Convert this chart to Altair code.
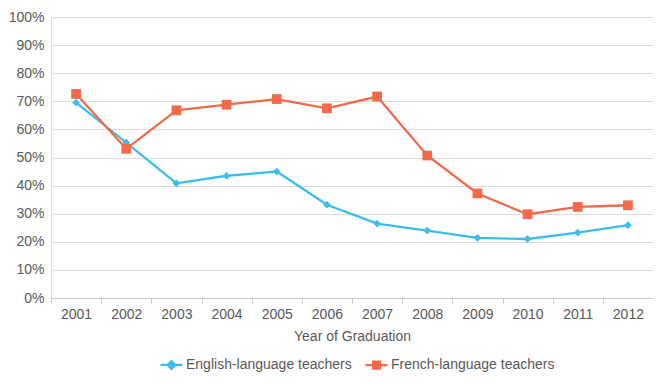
import altair as alt
import pandas as pd

years = ["2001", "2002", "2003", "2004", "2005", "2006", "2007", "2008", "2009", "2010", "2011", "2012"]
english = [0.695, 0.553, 0.408, 0.435, 0.450, 0.332, 0.265, 0.240, 0.214, 0.210, 0.233, 0.259]
french = [0.726, 0.531, 0.668, 0.688, 0.708, 0.675, 0.717, 0.507, 0.372, 0.298, 0.324, 0.330]
series = ["English-language teachers", "French-language teachers"]
colors = ["#3DBDEA", "#F26A4A"]
y_ticks = [0, 0.1, 0.2, 0.3, 0.4, 0.5, 0.6, 0.7, 0.8, 0.9, 1.0]

rows = []
for yr, e, f in zip(years, english, french):
    rows.append({"Year": yr, "Share": e, "Series": series[0]})
    rows.append({"Year": yr, "Share": f, "Series": series[1]})
df = pd.DataFrame(rows)

FONT = "Liberation Sans"
GRAY = "#595959"

x_enc = alt.X(
    "Year:O",
    sort=years,
    scale=alt.Scale(type="band", paddingInner=0, paddingOuter=0),
    axis=alt.Axis(
        title="Year of Graduation",
        labelAngle=0,
        tickBand="extent",
        grid=False,
        domainColor="#c8c8c8",
        tickColor="#c8c8c8",
        tickSize=5,
        labelPadding=4,
        titlePadding=8,
    ),
)
y_enc = alt.Y(
    "Share:Q",
    scale=alt.Scale(domain=[0, 1], nice=False, zero=True),
    axis=alt.Axis(
        title=None,
        format=".0%",
        values=y_ticks,
        grid=True,
        gridColor="#dcdcdc",
        domainColor="#dcdcdc",
        ticks=False,
        labelPadding=7,
    ),
)
color_scale = alt.Scale(domain=series, range=colors)
legend_paths = [
    "M-1,0L1,0M0,-0.36L0.36,0L0,0.36L-0.36,0Z",
    "M-1,0L1,0M-0.32,-0.32L0.32,-0.32L0.32,0.32L-0.32,0.32Z",
]

base = alt.Chart(df)

lines = base.mark_line(strokeWidth=2.3).encode(
    x=x_enc, y=y_enc, color=alt.Color("Series:N", scale=color_scale, title=None)
)
pts_en = base.transform_filter(alt.datum.Series == series[0]).mark_point(
    filled=True, shape="diamond", size=60, opacity=1
).encode(x=x_enc, y=y_enc, color=alt.Color("Series:N", scale=color_scale, title=None))
pts_fr = base.transform_filter(alt.datum.Series == series[1]).mark_point(
    filled=True, shape="square", size=95, opacity=1
).encode(x=x_enc, y=y_enc, color=alt.Color("Series:N", scale=color_scale, title=None))

# supplies the line+marker legend symbols; its own points are drawn at size 0
legend_layer = base.mark_point(strokeWidth=2.3, size=0).encode(
    x=x_enc,
    y=y_enc,
    fill=alt.Fill("Series:N", scale=color_scale, title=None),
    stroke=alt.Stroke("Series:N", scale=color_scale, title=None),
    shape=alt.Shape("Series:N", scale=alt.Scale(domain=series, range=legend_paths), title=None),
)

chart = (
    alt.layer(lines, pts_en, pts_fr, legend_layer)
    .properties(
        width=602,
        height=281,
        autosize=alt.AutoSizeParams(type="none"),
        padding={"left": 43, "top": 9, "right": 0, "bottom": 79},
    )
    .configure_view(stroke=None)
    .configure_axis(
        labelFont=FONT,
        labelFontSize=14,
        labelColor=GRAY,
        titleFont=FONT,
        titleFontSize=14,
        titleColor=GRAY,
        titleFontWeight="normal",
    )
    .configure_legend(
        orient="none",
        legendX=108,
        legendY=335,
        direction="horizontal",
        symbolSize=484,
        symbolStrokeWidth=2.3,
        labelFont=FONT,
        labelFontSize=14,
        labelColor=GRAY,
        labelOffset=2,
        labelLimit=400,
        columnPadding=8,
    )
)

chart.save("out.html", embed_options={"renderer": "svg", "actions": False})
